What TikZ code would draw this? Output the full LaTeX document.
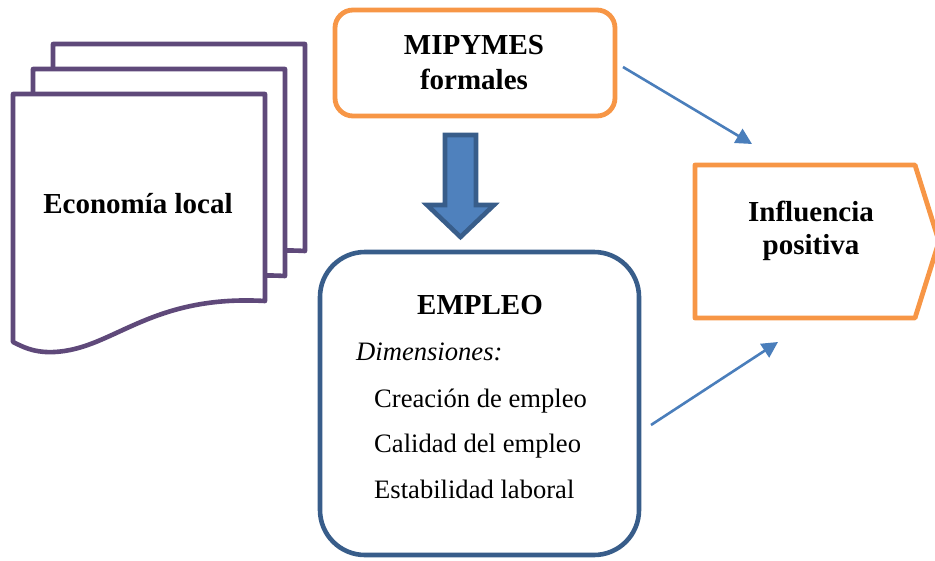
\documentclass[tikz,border=0pt]{standalone}
\usepackage{fontspec}
\setmainfont{Liberation Serif}
\usetikzlibrary{arrows.meta}
\definecolor{purp}{HTML}{5F497A}
\definecolor{orng}{HTML}{F79646}
\definecolor{bdark}{HTML}{385D8A}
\definecolor{bfill}{HTML}{4F81BD}
\definecolor{barrow}{HTML}{4A7EBB}
\begin{document}
\begin{tikzpicture}[x=1pt,y=-1pt,
  bigtxt/.style={font=\fontsize{29}{35}\selectfont\bfseries, inner sep=0pt, anchor=base},
  smalltxt/.style={font=\fontsize{26.6}{32}\selectfont, inner sep=0pt, anchor=base west},
  itxt/.style={font=\fontsize{26.6}{32}\selectfont\itshape, inner sep=0pt, anchor=base west},
  page/.style={draw=purp, line width=4.6pt, fill=white, line join=round},
  obox/.style={draw=orng, line width=4.8pt, fill=white},
  link/.style={draw=barrow, line width=2.6pt, -{Triangle[length=16pt,width=16pt]}}]
\useasboundingbox (0,0) rectangle (935,560);

% multi-document shape
\foreach \dx/\dy in {40/-50, 20/-25, 0/0}{
  \draw[page, shift={(\dx,\dy)}] (13,94) -- (265,94) -- (265,301)
    .. controls (160,295) and (120,340) .. (70,350)
    .. controls (40,356) and (25,348) .. (13,342) -- cycle;
}
\node[bigtxt] (econ) at (138,213) {Economía local};

% MIPYMES box
\node[obox, rounded corners=18pt, minimum width=280pt, minimum height=106pt, inner sep=0pt] (mipy) at (475,63) {};
\node[bigtxt] (mipyA) at (474,54) {MIPYMES};
\node[bigtxt] (mipyB) at (474,89) {formales};

% block arrow
\draw[fill=bfill, draw=bdark, line width=4.6pt, line join=miter]
  (445,135) -- (476,135) -- (476,205) -- (494,205) -- (460.5,237) -- (427,205) -- (445,205) -- cycle;

% EMPLEO box
\node[draw=bdark, line width=4.6pt, fill=white, rounded corners=45pt, minimum width=319pt, minimum height=303pt, inner sep=0pt] (empleo) at (479.5,403.5) {};
\node[bigtxt] (empA) at (480,314) {EMPLEO};
\node[itxt] (dim) at (356,360) {Dimensiones:};
\node[smalltxt] (d1) at (374,407) {Creación de empleo};
\node[smalltxt] (d2) at (374,452) {Calidad del empleo};
\node[smalltxt] (d3) at (374,498) {Estabilidad laboral};

% Influencia pentagon
\draw[obox, line join=round] (695,165) -- (915,165) -- (939,241.5) -- (915,318) -- (695,318) -- cycle;
\node[bigtxt] (infA) at (811,221) {Influencia};
\node[bigtxt] (infB) at (811,254) {positiva};

% arrows
\coordinate (a1s) at (623,67);
\coordinate (a1e) at (752,144);
\coordinate (a2s) at (651,425);
\coordinate (a2e) at (778,342);
\draw[link] (a1s) -- (a1e);
\draw[link] (a2s) -- (a2e);
\end{tikzpicture}
\end{document}
